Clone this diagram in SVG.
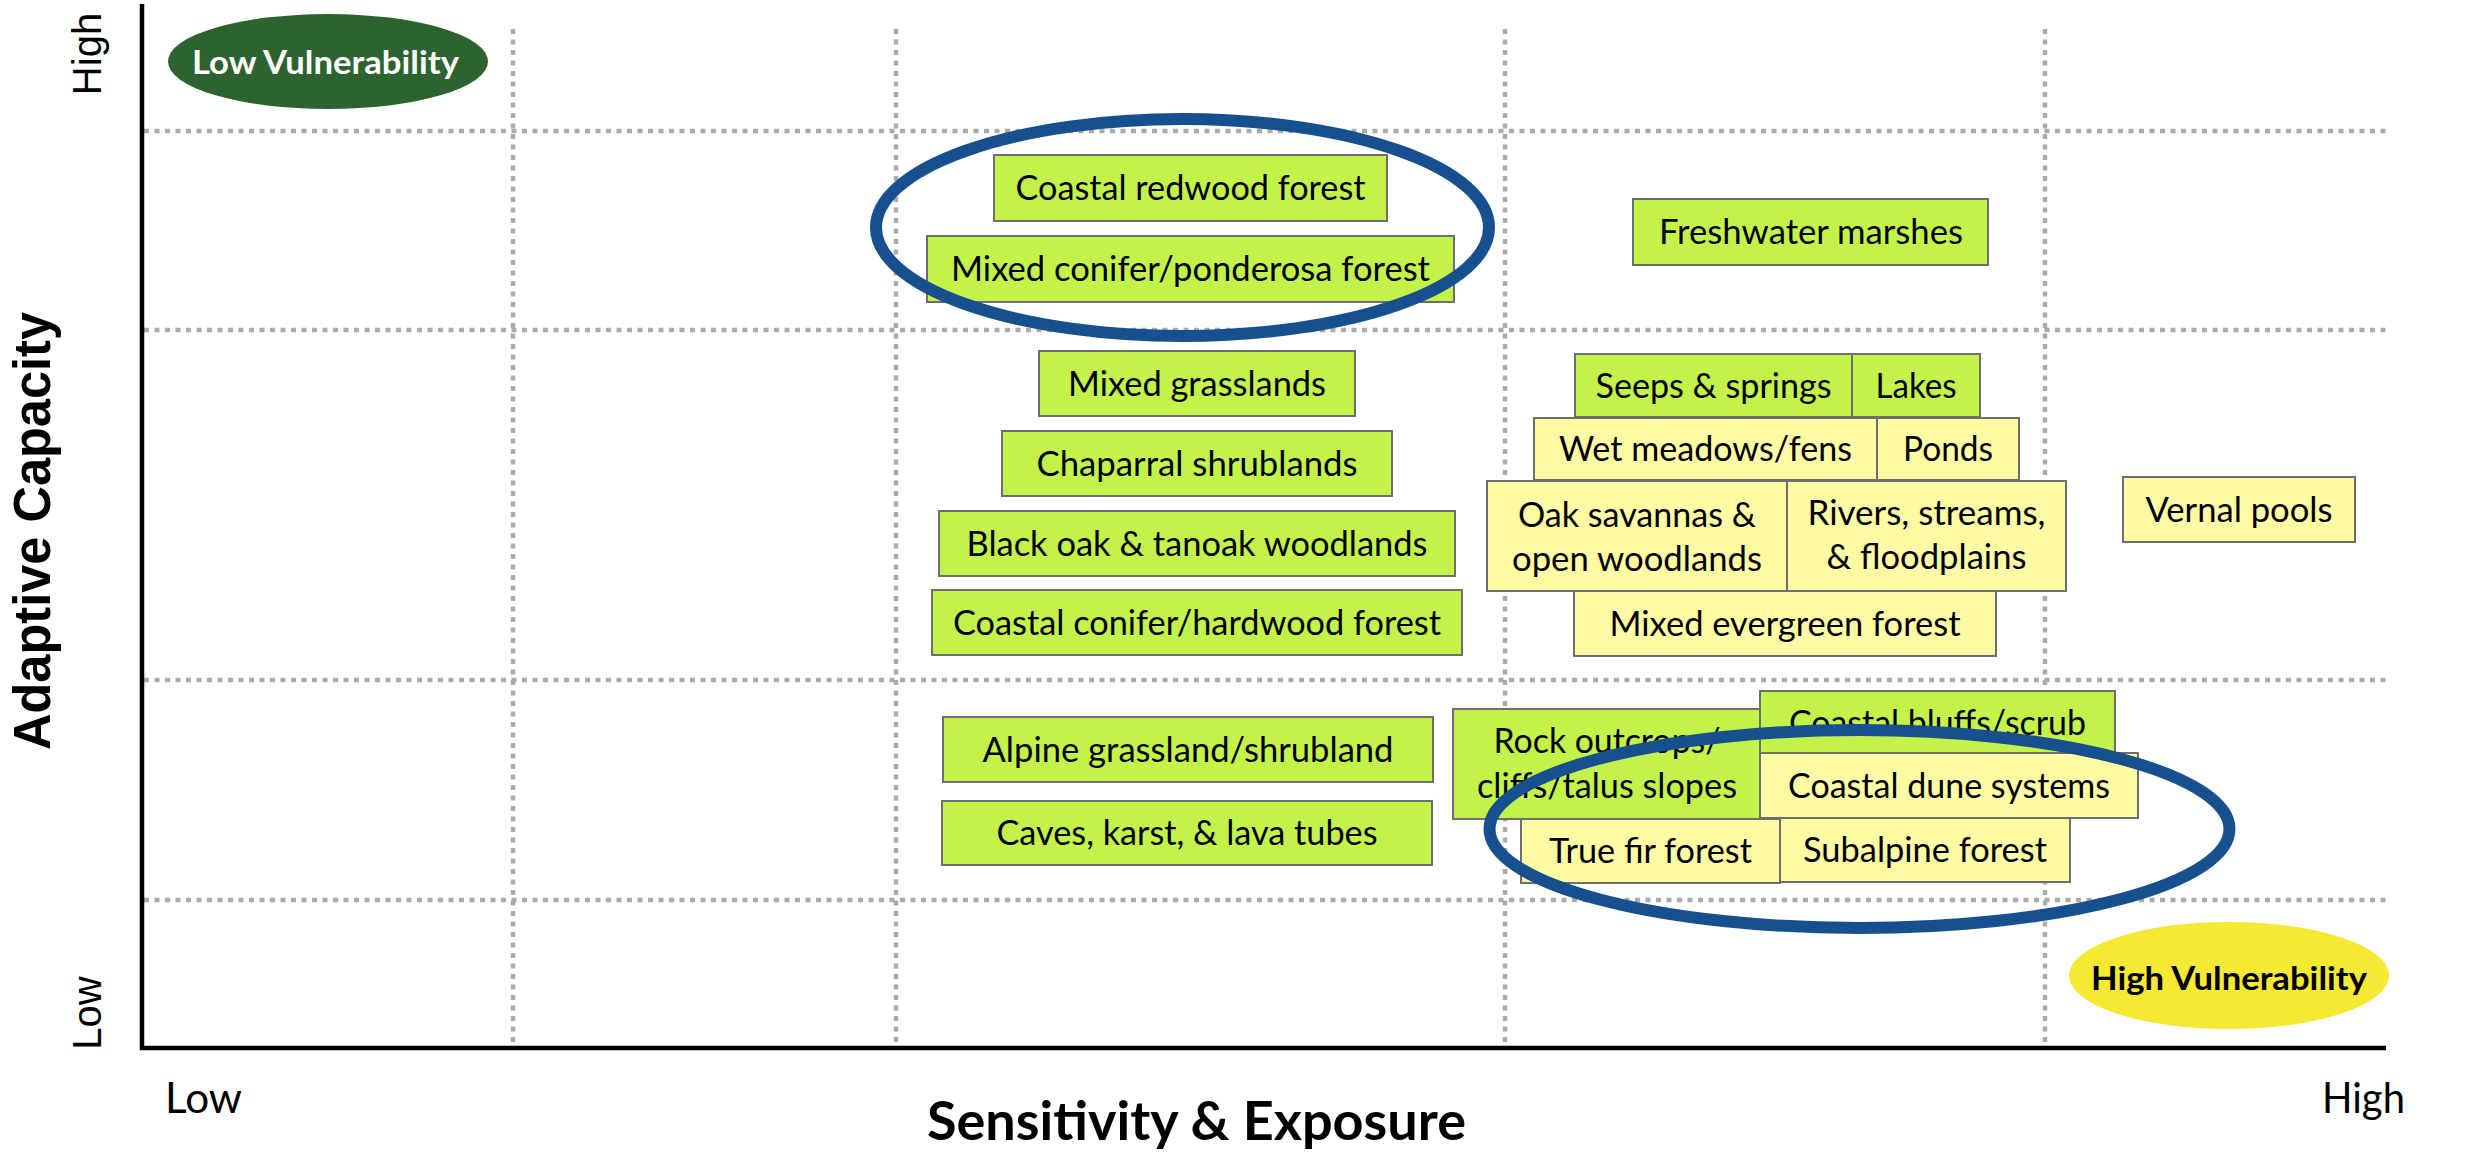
<svg xmlns="http://www.w3.org/2000/svg" width="2486" height="1152" viewBox="0 0 2486 1152">
<style>
.grid{stroke:#ABABAB;stroke-width:4.5;stroke-dasharray:5 5.5;fill:none}
.axis{stroke:#000;stroke-width:4.5;fill:none}
.g{fill:#C3F34B;stroke:#6E6E6E;stroke-width:2}
.y{fill:#FFFBA5;stroke:#6E6E6E;stroke-width:2}
.t{font-family:Lato,"Liberation Sans",sans-serif;font-size:35px;fill:#000;text-anchor:middle}
.ring{fill:none;stroke:#17508F;stroke-width:12}
.ax{font-family:"Liberation Sans",Arial,sans-serif;font-size:40px;fill:#000;text-anchor:middle}
.axb{font-family:Lato,"Liberation Sans",sans-serif;font-weight:bold;fill:#000}
</style>
<rect width="2486" height="1152" fill="#fff"/>
<g id="grid">
<line class="grid" x1="144" y1="131" x2="2388" y2="131"/>
<line class="grid" x1="144" y1="330" x2="2388" y2="330"/>
<line class="grid" x1="144" y1="680" x2="2388" y2="680"/>
<line class="grid" x1="144" y1="900" x2="2388" y2="900"/>
<line class="grid" x1="513" y1="29" x2="513" y2="1046"/>
<line class="grid" x1="896" y1="29" x2="896" y2="1046"/>
<line class="grid" x1="1505" y1="29" x2="1505" y2="1046"/>
<line class="grid" x1="2045" y1="29" x2="2045" y2="1046"/>
</g>
<g id="axes">
<line class="axis" x1="142" y1="4" x2="142" y2="1050"/>
<line class="axis" x1="140" y1="1048" x2="2386" y2="1048"/>
<text class="ax" transform="translate(101,54) rotate(-90)">High</text>
<text class="ax" transform="translate(101,1013) rotate(-90)">Low</text>
<text font-family="'Liberation Sans',Arial,sans-serif" font-weight="bold" font-size="51" text-anchor="middle" transform="translate(50,531) rotate(-90)" textLength="438" lengthAdjust="spacingAndGlyphs">Adaptive Capacity</text>
<text class="axb" x="165" y="1113" font-size="42" textLength="77" lengthAdjust="spacingAndGlyphs" style="font-weight:normal">Low</text>
<text class="axb" x="2322" y="1113" font-size="42" textLength="83" lengthAdjust="spacingAndGlyphs" style="font-weight:normal">High</text>
<text class="axb" x="927" y="1140" font-size="53" textLength="539" lengthAdjust="spacingAndGlyphs">Sensitivity &amp; Exposure</text>
</g>
<g id="low-vulnerability">
<ellipse cx="328" cy="61.5" rx="160" ry="47.5" fill="#2C6330"/>
<text class="axb" x="325.5" y="73.5" font-size="33" text-anchor="middle" style="fill:#fff" textLength="267" lengthAdjust="spacingAndGlyphs">Low Vulnerability</text>
</g>
<g id="high-vulnerability">
<ellipse cx="2229" cy="975.5" rx="160" ry="53.5" fill="#F5E933"/>
<text class="axb" x="2229" y="990" font-size="33" text-anchor="middle" textLength="276" lengthAdjust="spacingAndGlyphs">High Vulnerability</text>
</g>
<g id="coastal-redwood"><rect class="g" x="994" y="155" width="393" height="66"/><text class="t" x="1190.5" y="200" textLength="350" lengthAdjust="spacingAndGlyphs">Coastal redwood forest</text></g>
<g id="mixed-conifer"><rect class="g" x="927" y="236" width="527" height="66"/><text class="t" x="1190.5" y="281" textLength="479" lengthAdjust="spacingAndGlyphs">Mixed conifer/ponderosa forest</text></g>
<g id="mixed-grasslands"><rect class="g" x="1039" y="351" width="316" height="65"/><text class="t" x="1197" y="395.5" textLength="258" lengthAdjust="spacingAndGlyphs">Mixed grasslands</text></g>
<g id="chaparral"><rect class="g" x="1002" y="431" width="390" height="65"/><text class="t" x="1197" y="475.5" textLength="321" lengthAdjust="spacingAndGlyphs">Chaparral shrublands</text></g>
<g id="black-oak"><rect class="g" x="939" y="511" width="516" height="65"/><text class="t" x="1197" y="555.5" textLength="461" lengthAdjust="spacingAndGlyphs">Black oak &amp; tanoak woodlands</text></g>
<g id="coastal-conifer"><rect class="g" x="932" y="590" width="530" height="65"/><text class="t" x="1197" y="634.5" textLength="488" lengthAdjust="spacingAndGlyphs">Coastal conifer/hardwood forest</text></g>
<g id="alpine"><rect class="g" x="943" y="717" width="490" height="65"/><text class="t" x="1188" y="761.5" textLength="411" lengthAdjust="spacingAndGlyphs">Alpine grassland/shrubland</text></g>
<g id="caves"><rect class="g" x="942" y="801" width="490" height="64"/><text class="t" x="1187" y="845" textLength="381" lengthAdjust="spacingAndGlyphs">Caves, karst, &amp; lava tubes</text></g>
<g id="freshwater"><rect class="g" x="1633" y="199" width="355" height="66"/><text class="t" x="1811" y="244" textLength="304" lengthAdjust="spacingAndGlyphs">Freshwater marshes</text></g>
<g id="seeps"><rect class="g" x="1575" y="354" width="277" height="63"/><text class="t" x="1713.5" y="397.5" textLength="236" lengthAdjust="spacingAndGlyphs">Seeps &amp; springs</text></g>
<g id="lakes"><rect class="g" x="1852" y="354" width="128" height="63"/><text class="t" x="1916" y="397.5" textLength="81" lengthAdjust="spacingAndGlyphs">Lakes</text></g>
<g id="wet-meadows"><rect class="y" x="1534" y="418" width="343" height="62"/><text class="t" x="1705.5" y="461" textLength="293" lengthAdjust="spacingAndGlyphs">Wet meadows/fens</text></g>
<g id="ponds"><rect class="y" x="1877" y="418" width="142" height="62"/><text class="t" x="1948" y="461" textLength="90" lengthAdjust="spacingAndGlyphs">Ponds</text></g>
<g id="oak-savannas"><rect class="y" x="1487" y="481" width="300" height="110"/><text class="t" x="1637" y="527" textLength="238" lengthAdjust="spacingAndGlyphs">Oak savannas &amp;</text><text class="t" x="1637" y="571" textLength="250" lengthAdjust="spacingAndGlyphs">open woodlands</text></g>
<g id="rivers"><rect class="y" x="1787" y="481" width="279" height="110"/><text class="t" x="1926.5" y="525" textLength="238" lengthAdjust="spacingAndGlyphs">Rivers, streams,</text><text class="t" x="1926.5" y="569" textLength="200" lengthAdjust="spacingAndGlyphs">&amp; floodplains</text></g>
<g id="mixed-evergreen"><rect class="y" x="1574" y="591" width="422" height="65"/><text class="t" x="1785" y="635.5" textLength="351" lengthAdjust="spacingAndGlyphs">Mixed evergreen forest</text></g>
<g id="vernal-pools"><rect class="y" x="2123" y="477" width="232" height="65"/><text class="t" x="2239" y="521.5" textLength="187" lengthAdjust="spacingAndGlyphs">Vernal pools</text></g>
<g id="rock-outcrops"><rect class="g" x="1453" y="709" width="308" height="110"/><text class="t" x="1607" y="752.5" textLength="227" lengthAdjust="spacingAndGlyphs">Rock outcrops/</text><text class="t" x="1607" y="798" textLength="260" lengthAdjust="spacingAndGlyphs">cliffs/talus slopes</text></g>
<g id="coastal-bluffs"><rect class="g" x="1760" y="691" width="355" height="62"/><text class="t" x="1937.5" y="735" textLength="297" lengthAdjust="spacingAndGlyphs">Coastal bluffs/scrub</text></g>
<g id="coastal-dune"><rect class="y" x="1760" y="753" width="378" height="65"/><text class="t" x="1949" y="797.5" textLength="322" lengthAdjust="spacingAndGlyphs">Coastal dune systems</text></g>
<g id="true-fir"><rect class="y" x="1521" y="819" width="259" height="64"/><text class="t" x="1650.5" y="863" textLength="203" lengthAdjust="spacingAndGlyphs">True fir forest</text></g>
<g id="subalpine"><rect class="y" x="1780" y="818" width="290" height="64"/><text class="t" x="1925" y="862" textLength="244" lengthAdjust="spacingAndGlyphs">Subalpine forest</text></g>
<g id="highlight-top"><ellipse class="ring" cx="1182.5" cy="227.5" rx="306.5" ry="108.5"/></g>
<g id="highlight-bottom"><ellipse class="ring" cx="1859.5" cy="829" rx="370" ry="99"/></g>
<g id="connectors"></g>
</svg>
